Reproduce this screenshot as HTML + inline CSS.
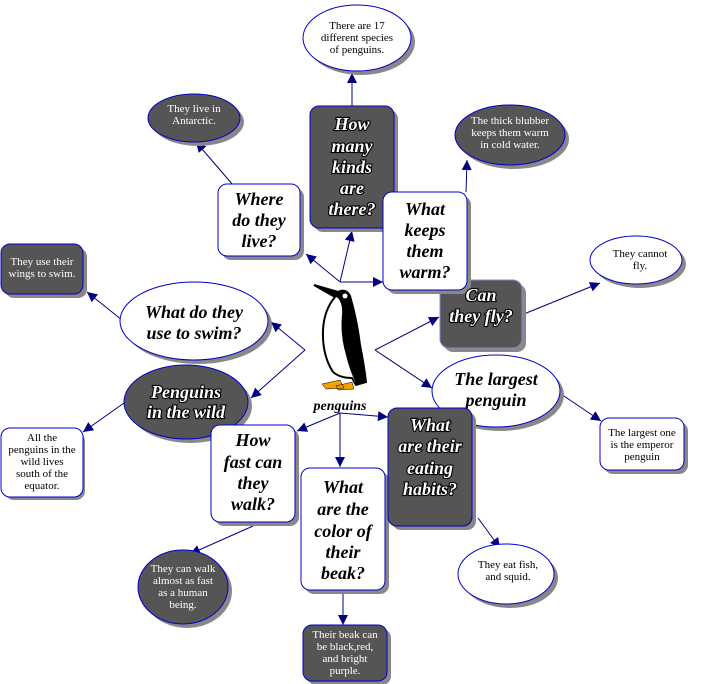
<!DOCTYPE html>
<html><head><meta charset="utf-8"><style>
html,body{margin:0;padding:0;background:#fff;}
svg{display:block;}
.b{font-family:"Liberation Serif",serif;font-weight:bold;font-style:italic;font-size:18px;text-anchor:middle;}
.bw{fill:#fff;stroke:#000;stroke-width:2.2px;paint-order:stroke;}
.bk{fill:#000;stroke:#fff;stroke-width:1.5px;paint-order:stroke;}
.s{font-family:"Liberation Serif",serif;font-size:11px;text-anchor:middle;}
.sw{fill:#fff;}
.sk{fill:#000;}
.ln{stroke:#000080;stroke-width:1;fill:none;}
</style></head><body>
<svg width="703" height="684" viewBox="0 0 703 684" xmlns="http://www.w3.org/2000/svg">
<defs>
<marker id="a" viewBox="0 0 10 10" refX="10" refY="5" markerWidth="14" markerHeight="10" markerUnits="userSpaceOnUse" orient="auto"><path d="M0,0 L10,5 L0,10 z" fill="#000080"/></marker>
</defs>

<!-- connectors -->
<g class="ln">
<path d="M340,282 L306,254" marker-end="url(#a)"/>
<path d="M340,282 L352,231" marker-end="url(#a)"/>
<path d="M340,282 L383,282" marker-end="url(#a)"/>
<path d="M305,350 L271,322" marker-end="url(#a)"/>
<path d="M305,350 L251,398" marker-end="url(#a)"/>
<path d="M375,350 L439,317" marker-end="url(#a)"/>
<path d="M375,350 L432,388" marker-end="url(#a)"/>
<path d="M340,413 L297,431" marker-end="url(#a)"/>
<path d="M340,413 L340,467" marker-end="url(#a)"/>
<path d="M340,413 L388,417" marker-end="url(#a)"/>
<path d="M233,185 L196,142" marker-end="url(#a)"/>
<path d="M352,106 L352,73" marker-end="url(#a)"/>
<path d="M466,192 L467,160" marker-end="url(#a)"/>
<path d="M524,314 L600,283" marker-end="url(#a)"/>
<path d="M122,320 L87,292" marker-end="url(#a)"/>
<path d="M124,403 L83,432" marker-end="url(#a)"/>
<path d="M558,392 L601,421" marker-end="url(#a)"/>
<path d="M253,526 L190,554" marker-end="url(#a)"/>
<path d="M343,592 L343,625" marker-end="url(#a)"/>
<path d="M478,518 L500,548" marker-end="url(#a)"/>
</g>

<!-- clouds: shadow, shape -->
<g>
<ellipse cx="361" cy="42" rx="54" ry="33" fill="#888"/>
<ellipse cx="357" cy="38" rx="54" ry="33" fill="#fff" stroke="#0000cc"/>
<text class="s sk" x="357" y="29">There are 17</text>
<text class="s sk" x="357" y="41">different species</text>
<text class="s sk" x="357" y="53">of penguins.</text>

<ellipse cx="198" cy="122" rx="46" ry="24" fill="#888"/>
<ellipse cx="194" cy="118" rx="46" ry="24" fill="#555" stroke="#0000cc"/>
<text class="s sw" x="194" y="112">They live in</text>
<text class="s sw" x="194" y="124">Antarctic.</text>

<ellipse cx="514" cy="139" rx="55" ry="30" fill="#888"/>
<ellipse cx="510" cy="135" rx="55" ry="30" fill="#555" stroke="#0000cc"/>
<text class="s sw" x="510" y="124">The thick blubber</text>
<text class="s sw" x="510" y="136">keeps them warm</text>
<text class="s sw" x="510" y="148">in cold water.</text>

<ellipse cx="640" cy="264" rx="46" ry="24" fill="#888"/>
<ellipse cx="636" cy="260" rx="46" ry="24" fill="#fff" stroke="#0000cc"/>
<text class="s sk" x="640" y="257">They cannot</text>
<text class="s sk" x="640" y="269">fly.</text>

<ellipse cx="198" cy="325" rx="74" ry="39" fill="#888"/>
<ellipse cx="194" cy="321" rx="74" ry="39" fill="#fff" stroke="#0000cc"/>
<text class="b bk" x="194" y="318">What do they</text>
<text class="b bk" x="194" y="339">use to swim?</text>

<ellipse cx="190" cy="406" rx="62" ry="37" fill="#888"/>
<ellipse cx="186" cy="402" rx="62" ry="37" fill="#555" stroke="#0000cc"/>
<text class="b bw" x="186" y="398">Penguins</text>
<text class="b bw" x="186" y="418">in the wild</text>

<ellipse cx="500" cy="395" rx="64" ry="36" fill="#888"/>
<ellipse cx="496" cy="391" rx="64" ry="36" fill="#fff" stroke="#0000cc"/>
<text class="b bk" x="496" y="385">The largest</text>
<text class="b bk" x="496" y="406">penguin</text>

<ellipse cx="510" cy="578" rx="48" ry="30" fill="#888"/>
<ellipse cx="506" cy="574" rx="48" ry="30" fill="#fff" stroke="#0000cc"/>
<text class="s sk" x="508" y="568">They eat fish,</text>
<text class="s sk" x="508" y="580">and squid.</text>

<ellipse cx="187" cy="591" rx="45" ry="37" fill="#888"/>
<ellipse cx="183" cy="587" rx="45" ry="37" fill="#555" stroke="#0000cc"/>
<text class="s sw" x="183" y="572">They can walk</text>
<text class="s sw" x="183" y="584">almost as fast</text>
<text class="s sw" x="183" y="596">as a human</text>
<text class="s sw" x="183" y="608">being.</text>
</g>

<!-- boxes -->
<g stroke="#0000cc">
<rect x="314" y="110" width="84" height="122" rx="9" fill="#888" stroke="none"/>
<rect x="310" y="106" width="84" height="122" rx="9" fill="#555"/>
<rect x="222" y="188" width="82" height="72" rx="9" fill="#888" stroke="none"/>
<rect x="218" y="184" width="82" height="72" rx="9" fill="#fff"/>
<rect x="444" y="284" width="82" height="68" rx="9" fill="#888" stroke="none"/>
<rect x="440" y="280" width="82" height="68" rx="9" fill="#555" stroke="#8888cc"/>
<rect x="387" y="196" width="84" height="98" rx="9" fill="#888" stroke="none"/>
<rect x="383" y="192" width="84" height="98" rx="9" fill="#fff"/>
<rect x="5" y="248" width="82" height="50" rx="9" fill="#888" stroke="none"/>
<rect x="1" y="244" width="82" height="50" rx="9" fill="#555"/>
<rect x="604" y="422" width="84" height="52" rx="9" fill="#888" stroke="none"/>
<rect x="600" y="418" width="84" height="52" rx="9" fill="#fff"/>
<rect x="5" y="432" width="80" height="68" rx="9" fill="#888" stroke="none"/>
<rect x="1" y="428" width="82" height="69" rx="9" fill="#fff"/>
<rect x="215" y="429" width="84" height="97" rx="9" fill="#888" stroke="none"/>
<rect x="211" y="425" width="84" height="97" rx="9" fill="#fff"/>
<rect x="305" y="472" width="84" height="122" rx="9" fill="#888" stroke="none"/>
<rect x="301" y="468" width="84" height="122" rx="9" fill="#fff"/>
<rect x="392" y="412" width="84" height="118" rx="9" fill="#888" stroke="none"/>
<rect x="388" y="408" width="84" height="118" rx="9" fill="#555"/>
<rect x="307" y="629" width="84" height="56" rx="9" fill="#888" stroke="none"/>
<rect x="303" y="625" width="84" height="56" rx="9" fill="#555"/>
</g>

<g>
<text class="b bw" x="352" y="130">How</text>
<text class="b bw" x="352" y="152">many</text>
<text class="b bw" x="352" y="173">kinds</text>
<text class="b bw" x="352" y="194">are</text>
<text class="b bw" x="352" y="215">there?</text>

<text class="b bk" x="259" y="205">Where</text>
<text class="b bk" x="259" y="226">do they</text>
<text class="b bk" x="259" y="247">live?</text>

<text class="b bw" x="481" y="301">Can</text>
<text class="b bw" x="481" y="322">they fly?</text>

<text class="b bk" x="425" y="215">What</text>
<text class="b bk" x="425" y="236">keeps</text>
<text class="b bk" x="425" y="257">them</text>
<text class="b bk" x="425" y="278">warm?</text>

<text class="s sw" x="42" y="265">They use their</text>
<text class="s sw" x="42" y="277">wings to swim.</text>

<text class="s sk" x="642" y="436">The largest one</text>
<text class="s sk" x="642" y="448">is the emperor</text>
<text class="s sk" x="642" y="460">penguin</text>

<text class="s sk" x="42" y="441">All the</text>
<text class="s sk" x="42" y="453">penguins in the</text>
<text class="s sk" x="42" y="465">wild lives</text>
<text class="s sk" x="42" y="477">south of the</text>
<text class="s sk" x="42" y="489">equator.</text>

<text class="b bk" x="253" y="446">How</text>
<text class="b bk" x="253" y="468">fast can</text>
<text class="b bk" x="253" y="489">they</text>
<text class="b bk" x="253" y="510">walk?</text>

<text class="b bk" x="343" y="493">What</text>
<text class="b bk" x="343" y="515">are the</text>
<text class="b bk" x="343" y="537">color of</text>
<text class="b bk" x="343" y="558">their</text>
<text class="b bk" x="343" y="579">beak?</text>

<text class="b bw" x="430" y="431">What</text>
<text class="b bw" x="430" y="452">are their</text>
<text class="b bw" x="430" y="474">eating</text>
<text class="b bw" x="430" y="495">habits?</text>

<text class="s sw" x="345" y="638">Their beak can</text>
<text class="s sw" x="345" y="650">be black,red,</text>
<text class="s sw" x="345" y="662">and bright</text>
<text class="s sw" x="345" y="674">purple.</text>
</g>

<!-- penguin -->
<g>
<path d="M314,285 L338,292 Q346,288 350,296 Q357,320 360,345 Q364,365 366,382 L356,385 L352,378 Q340,378 333,372 Q322,355 323,330 Q324,310 335,297 Z" fill="#fff" stroke="#000" stroke-width="2"/>
<path d="M314,285 L338,291 Q347,288 350,297 Q357,320 361,346 Q364,366 366,382 L357,385 Q350,372 346,355 Q340,335 342,315 Q343,304 338,298 Z" fill="#000"/>
<circle cx="345" cy="296" r="2.5" fill="#fff"/>
<path d="M322,384 L340,380 L344,388 L326,389 Z M336,386 L352,382 L354,389 L338,390 Z" fill="#f5a000" stroke="#000" stroke-width="0.5"/>
<text x="340" y="410" style="font-family:'Liberation Serif',serif;font-weight:bold;font-style:italic;font-size:14px;text-anchor:middle;">penguins</text>
</g>
</svg>
</body></html>
